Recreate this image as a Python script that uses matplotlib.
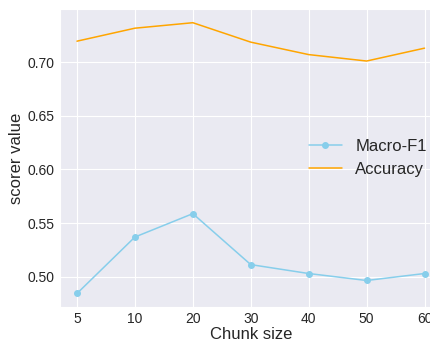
import matplotlib
matplotlib.use("Agg")
import matplotlib.pyplot as plt
import seaborn as sns

chunk_sizes = ["5", "10", "20", "30", "40", "50", "60"]
macro_f1 = [0.4844, 0.537, 0.5588, 0.5113, 0.503, 0.4965, 0.503]
accuracy = [0.7195, 0.7316, 0.7367, 0.7186, 0.707, 0.701, 0.713]

sns.set_style("darkgrid")
plt.rcParams['font.family'] = ['Liberation Sans', 'DejaVu Sans']

fig = plt.figure(figsize=(4.31, 3.4), dpi=100)
ax = fig.add_axes([0.1383, 0.097, 0.887, 0.876])

ax.plot(chunk_sizes, macro_f1, color="skyblue", marker="o", markersize=4,
        linewidth=1.1, label="Macro-F1")
ax.plot(chunk_sizes, accuracy, color="orange", linewidth=1.1, label="Accuracy")

ax.set_yticks([0.50, 0.55, 0.60, 0.65, 0.70])
ax.tick_params(labelsize=10, length=0, pad=3.5, colors="#262626")
ax.set_xlabel("Chunk size", fontsize=12, labelpad=1)
ax.set_ylabel("scorer value", fontsize=12, labelpad=3)
ax.legend(loc="center right", fontsize=12, frameon=False)

fig.savefig("out.png", dpi=100)
